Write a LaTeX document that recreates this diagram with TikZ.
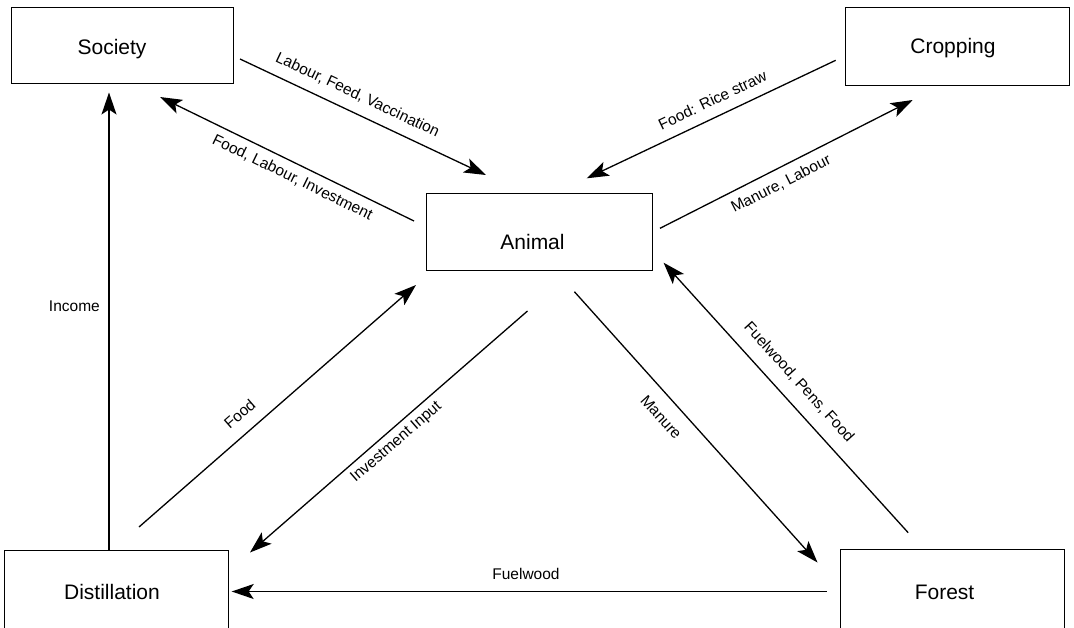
\documentclass[tikz,border=0pt]{standalone}
\usepackage{fontspec}
\setmainfont{Liberation Sans}
\usetikzlibrary{arrows.meta}
\begin{document}
\begin{tikzpicture}[x=1pt,y=-1pt,
  box/.style={draw=black,line width=1pt,rectangle,inner sep=0pt},
  boxtext/.style={font=\fontsize{21}{25}\selectfont,anchor=base,inner sep=0pt},
  lbl/.style={font=\fontsize{15.5}{18}\selectfont,inner sep=0pt},
  flow/.style={line width=1.3pt,-{Stealth[length=22pt,width=15pt,inset=5pt]}}]
\useasboundingbox (0,0) rectangle (1074,627);

% boxes
\node[box,minimum width=222pt,minimum height=76pt] (society) at (122,45) {};
\node[box,minimum width=224pt,minimum height=78pt] (cropping) at (957,46) {};
\node[box,minimum width=226pt,minimum height=77pt] (animal) at (539,231.5) {};
\node[box,minimum width=224pt,minimum height=90pt] (distillation) at (116,595) {};
\node[box,minimum width=224pt,minimum height=90pt] (forest) at (952,594) {};

% box texts
\node[boxtext] (societyT) at (112,54) {Society};
\node[boxtext] (croppingT) at (953,53) {Cropping};
\node[boxtext] (animalT) at (532.5,249) {Animal};
\node[boxtext] (distillationT) at (112,599.5) {Distillation};
\node[boxtext] (forestT) at (944.5,599) {Forest};

% connector end points
\coordinate (lfvA) at (240,59);   \coordinate (lfvB) at (486,175);
\coordinate (fliA) at (414,221);  \coordinate (fliB) at (160,97);
\coordinate (frsA) at (835.7,60.3); \coordinate (frsB) at (586.7,178.3);
\coordinate (mlA) at (660,228.3); \coordinate (mlB) at (912.7,100);
\coordinate (incA) at (109,550);  \coordinate (incB) at (109,92.5);
\coordinate (fdA) at (139,527);   \coordinate (fdB) at (416,285);
\coordinate (invA) at (527.5,311); \coordinate (invB) at (250,552.5);
\coordinate (mnA) at (574.4,291.7); \coordinate (mnB) at (817.5,562.5);
\coordinate (fpfA) at (908.2,532.7); \coordinate (fpfB) at (663.6,262.7);
\coordinate (fwA) at (826.7,591.5); \coordinate (fwB) at (231.7,591.5);

% connectors
\draw[flow] (lfvA) -- (lfvB);
\draw[flow] (fliA) -- (fliB);
\draw[flow] (frsA) -- (frsB);
\draw[flow] (mlA) -- (mlB);
\draw[flow] (incA) -- (incB);
\draw[flow] (fdA) -- (fdB);
\draw[flow] (invA) -- (invB);
\draw[flow] (mnA) -- (mnB);
\draw[flow] (fpfA) -- (fpfB);
\draw[flow] (fwA) -- (fwB);

% labels
\node[lbl,rotate=-25.25] (lLFV) at (357.5,95) {Labour, Feed, Vaccination};
\node[lbl,rotate=-26] (lFLI) at (292.5,177.5) {Food, Labour, Investment};
\node[lbl,rotate=25.4] (lFRS) at (712.5,100) {Food: Rice straw};
\node[lbl,rotate=26.9] (lML) at (781,184) {Manure, Labour};
\node[lbl] (lInc) at (74.4,306.7) {Income};
\node[lbl,rotate=41.1] (lFood) at (239.6,414) {Food};
\node[lbl,rotate=41] (lInv) at (396.5,442.3) {Investment Input};
\node[lbl,rotate=-48] (lMan) at (661.2,417.3) {Manure};
\node[lbl,rotate=-47.8] (lFPF) at (799,382.3) {Fuelwood, Pens, Food};
\node[lbl] (lFW) at (526,573.5) {Fuelwood};
\end{tikzpicture}
\end{document}
